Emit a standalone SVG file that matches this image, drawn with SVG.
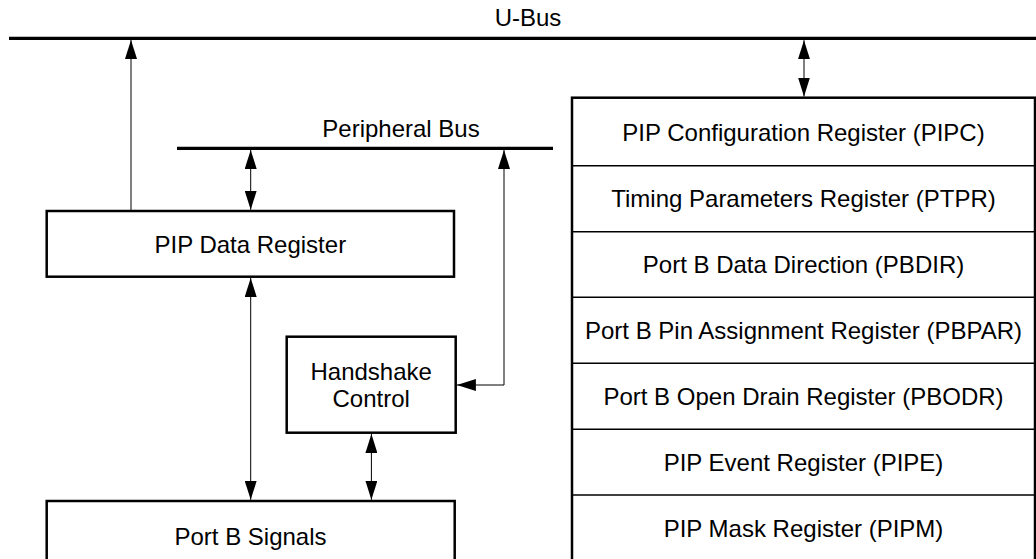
<svg xmlns="http://www.w3.org/2000/svg" width="1036" height="559" viewBox="0 0 1036 559">
<style>
text{font-family:"Liberation Sans",Arial,sans-serif;font-size:24px;fill:#000;text-anchor:middle}
.box{fill:#fff;stroke:#000;stroke-width:2.5}
.div{stroke:#000;stroke-width:1.5;fill:none}
.bus{stroke:#000;stroke-width:3.2;fill:none}
.arr{stroke:#000;stroke-width:1;fill:none;marker-end:url(#ah)}
.bi{stroke:#000;stroke-width:1;fill:none;marker-start:url(#ah);marker-end:url(#ah)}
</style>
<defs>
<marker id="ah" markerUnits="userSpaceOnUse" markerWidth="20" markerHeight="12" refX="19" refY="6" orient="auto-start-reverse">
<path d="M0,0 L19,6 L0,12 Z" fill="#000"/>
</marker>
</defs>
<rect width="1036" height="559" fill="#fff"/>
<g id="u-bus">
<line class="bus" x1="9" y1="38.3" x2="1036" y2="38.3"/>
<text x="528" y="26">U-Bus</text>
</g>
<g id="peripheral-bus">
<line class="bus" x1="177" y1="148.3" x2="553" y2="148.3"/>
<text x="401" y="137">Peripheral Bus</text>
</g>
<g id="pip-data-register">
<rect class="box" x="46.7" y="211" width="407.3" height="65.7"/>
<text x="250.3" y="252.7">PIP Data Register</text>
</g>
<g id="handshake-control">
<rect class="box" x="286.7" y="336.7" width="169" height="96"/>
<text x="371.2" y="380">Handshake</text>
<text x="371.2" y="406.7">Control</text>
</g>
<g id="port-b-signals">
<rect class="box" x="46.7" y="501" width="408" height="80"/>
<text x="250.5" y="544.6">Port B Signals</text>
</g>
<g id="register-stack">
<rect class="box" x="572" y="97.7" width="463" height="480"/>
<line class="div" x1="572" y1="165.7" x2="1035" y2="165.7"/>
<line class="div" x1="572" y1="231.7" x2="1035" y2="231.7"/>
<line class="div" x1="572" y1="297.3" x2="1035" y2="297.3"/>
<line class="div" x1="572" y1="363.3" x2="1035" y2="363.3"/>
<line class="div" x1="572" y1="429.3" x2="1035" y2="429.3"/>
<line class="div" x1="572" y1="495" x2="1035" y2="495"/>
<text x="803.5" y="141.2">PIP Configuration Register (PIPC)</text>
<text x="803.5" y="207.2">Timing Parameters Register (PTPR)</text>
<text x="803.5" y="273">Port B Data Direction (PBDIR)</text>
<text x="803.5" y="338.8">Port B Pin Assignment Register (PBPAR)</text>
<text x="803.5" y="404.8">Port B Open Drain Register (PBODR)</text>
<text x="803.5" y="470.6">PIP Event Register (PIPE)</text>
<text x="803.5" y="536.5">PIP Mask Register (PIPM)</text>
</g>
<g id="connectors">
<line class="arr" x1="131" y1="211" x2="131" y2="40"/>
<line class="bi" x1="804" y1="40.2" x2="804" y2="96.5"/>
<line class="bi" x1="250.7" y1="150" x2="250.7" y2="209.8"/>
<line class="bi" x1="250.7" y1="278" x2="250.7" y2="499.8"/>
<line class="bi" x1="371.4" y1="434" x2="371.4" y2="499.8"/>
<path class="bi" d="M456.9,385 H504 V150"/>
</g>
</svg>
